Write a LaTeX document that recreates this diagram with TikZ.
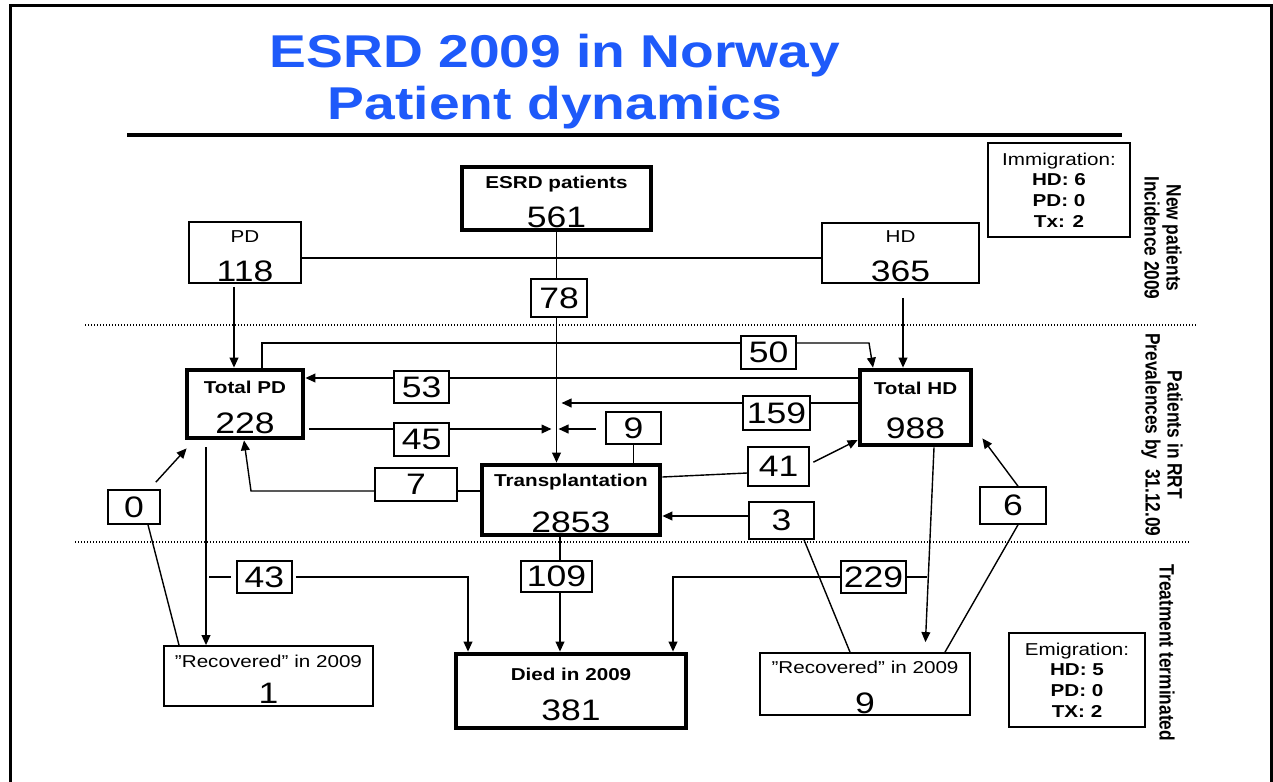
\documentclass[tikz,border=0pt]{standalone}
\usepackage{fontspec}
\setmainfont{Liberation Sans}[FakeStretch=1.2]
\newfontfamily\sidefamily{Liberation Sans}[FakeStretch=0.833]
\usetikzlibrary{arrows.meta,calc}
\definecolor{titleblue}{RGB}{30,90,250}
\newcommand\numf{\mdseries\fontsize{14.8}{17}\selectfont}
\newcommand\boxf{\fontsize{8.6}{19.5}\selectfont\lineskiplimit=-\maxdimen}
\newcommand\infof{\fontsize{8.6}{10.4}\selectfont}
\newcommand\sidef{\sidefamily\bfseries\fontsize{10.4}{11}\selectfont}
\newcommand\titlef{\bfseries\fontsize{23}{26}\selectfont}
\newcommand\twolines[3]{\rule{0pt}{9.3pt}#1\\[#3]{\numf #2}}

\begin{document}
\begin{tikzpicture}[x=0.5pt,y=-0.5pt,>={Triangle[length=5pt,width=4.4pt]},
  flowbox/.style={draw,line width=0.9pt,inner sep=0pt,align=center,font=\boxf},
  mainbox/.style={flowbox,line width=2.4pt,font=\boxf\bfseries},
  numbox/.style={draw,line width=0.8pt,inner sep=0pt,font=\numf},
  infobox/.style={draw,line width=0.9pt,inner sep=0pt,align=center,font=\infof},
  sidelabel/.style={rotate=-90,align=center,font=\sidef},
  conn/.style={line width=0.7pt},
  divider/.style={line width=0.6pt,dash pattern=on 0.6pt off 0.9pt}]

\useasboundingbox (0,0) rectangle (1273,781);
\draw[line width=1.5pt] (10,6) rectangle (1271,800);

\node[anchor=north,inner sep=0pt,align=center,font=\titlef,text=titleblue] (title) at (555,34) {ESRD 2009 in Norway\\Patient dynamics};
\draw[line width=1.6pt] (127,135) -- (1122,135);

\draw[divider] (85,325) -- (1197,325);
\draw[divider] (75,542) -- (1190,542);

\node[mainbox,minimum width=94.5pt,minimum height=31.5pt] (esrd) at (556.5,198.5) {\twolines{ESRD patients}{561}{0pt}};
 \node[flowbox,minimum width=56pt,minimum height=30.5pt] (pd) at (245,252.5) {\twolines{PD}{118}{0pt}};
 \node[flowbox,minimum width=78.5pt,minimum height=30pt] (hd) at (900.5,253) {\twolines{HD}{365}{0pt}};
\node[infobox,minimum width=71pt,minimum height=47pt] (immig) at (1059,190) {Immigration:\\\textbf{HD: 6}\\\textbf{PD: 0}\\\textbf{Tx: 2}};

\node[mainbox,minimum width=58pt,minimum height=34pt] (tpd) at (245,404) {\twolines{Total PD}{228}{0.5pt}};
\node[mainbox,minimum width=55.5pt,minimum height=37.5pt] (thd) at (915.5,407.5) {\twolines{Total HD}{988}{2.5pt}};
\node[mainbox,minimum width=89pt,minimum height=35pt] (tx) at (571,500) {\twolines{Transplantation}{2853}{3.5pt}};

\node[mainbox,minimum width=115pt,minimum height=37pt] (died) at (571,691) {\twolines{Died in 2009}{381}{0.5pt}};
 \node[flowbox,minimum width=104.5pt,minimum height=30pt] (recpd) at (268.5,676) {\twolines{”Recovered” in 2009}{1}{-1.5pt}};
 \node[flowbox,minimum width=105pt,minimum height=31pt] (rechd) at (865,684) {\twolines{”Recovered” in 2009}{9}{0.5pt}};
\node[infobox,minimum width=68pt,minimum height=47pt] (emig) at (1077,680) {Emigration:\\\textbf{HD: 5}\\\textbf{PD: 0}\\\textbf{TX: 2}};

\node[numbox,minimum width=28pt,minimum height=19pt] (n78) at (559,298) {78};
\node[numbox,minimum width=27.5pt,minimum height=16pt] (n53) at (421.5,387) {53};
\node[numbox,minimum width=27.5pt,minimum height=16.5pt] (n45) at (421.5,439.5) {45};
\node[numbox,minimum width=27.5pt,minimum height=16pt] (n9) at (633.5,428) {9};
\node[numbox,minimum width=41pt,minimum height=16.5pt] (n7) at (416,484.5) {7};
\node[numbox,minimum width=27.5pt,minimum height=16.5pt] (n50) at (768.5,352.5) {50};
\node[numbox,minimum width=33.5pt,minimum height=17pt] (n159) at (776.5,413) {159};
\node[numbox,minimum width=30.5pt,minimum height=19.5pt] (n41) at (778.5,466.5) {41};
\node[numbox,minimum width=32.5pt,minimum height=18.5pt] (n3) at (781.5,520.5) {3};
\node[numbox,minimum width=33pt,minimum height=18.5pt] (n6) at (1013,505.5) {6};
\node[numbox,minimum width=26pt,minimum height=17pt] (n0) at (134,507) {0};
\node[numbox,minimum width=27.5pt,minimum height=16pt] (n43) at (264.5,577) {43};
\node[numbox,minimum width=35.5pt,minimum height=15.5pt] (n109) at (556.5,576.5) {109};
\node[numbox,minimum width=32.5pt,minimum height=16pt] (n229) at (873.5,577) {229};

\node[sidelabel] (sidenew) at (1163,238) {New patients\\Incidence 2009};
\node[sidelabel] (siderrt) at (1162,435) {Patients in RRT\\Prevalences by~~31.12.09};
\node[sidelabel] (sideend) at (1167,653) {Treatment terminated};

\draw[conn] (esrd.south) -- (esrd.south |- n78.north);
\draw[conn,->] (esrd.south |- n78.south) -- (esrd.south |- tx.north);
\draw[conn] (pd.east |- 0,258) -- (hd.west |- 0,258);
\draw[conn,->,shorten <=1.5pt] (234,0 |- pd.south) -- (234,0 |- tpd.north);
\draw[conn,->,shorten <=7pt] (903,0 |- hd.south) -- (903,0 |- thd.north);

\draw[conn] (262,0 |- tpd.north) |- (n50.west |- 0,343);
\draw[conn,->] (n50.east |- 0,343) -- (869,343) -- (873,0 |- thd.north);
\draw[conn] (thd.west |- 0,378) -- (n53.east |- 0,378);
\draw[conn,->] (n53.west |- 0,378) -- (tpd.east |- 0,378);
\draw[conn] (thd.west |- 0,403) -- (n159.east |- 0,403);
\draw[conn,->,shorten >=2.5pt] (n159.west |- 0,403) -- (esrd.south |- 0,403);
\draw[conn,shorten <=2pt] (tpd.east |- 0,429) -- (n45.west |- 0,429);
\draw[conn,->,shorten >=2.5pt] (n45.east |- 0,429) -- (esrd.south |- 0,429);
\draw[conn,->,shorten <=4.5pt,shorten >=1pt] (n9.west |- 0,429) -- (esrd.south |- 0,429);
\draw[conn] (n9.south) -- (n9.south |- tx.north);
\draw[conn] (tx.west |- 0,491) -- (n7.east |- 0,491);
\draw[conn,->] (n7.west |- 0,491) -- (251,491) -- (244,0 |- tpd.south);
\draw[conn] (tx.east |- 0,477) -- (n41.west |- 0,473);
\draw[conn,->,shorten <=2pt] (n41.east |- 0,464) -- (thd.west |- 0,440);
\draw[conn,->] (n3.west |- 0,516) -- (tx.east |- 0,516);
\draw[conn,->] (1018,0 |- n6.north) -- ($(thd.south east)+(9,-9)$);
\draw[conn,->] ($(n0.north east)+(-5,-7)$) -- ($(tpd.south west)+(2,8)$);

\draw[conn] (804,0 |- n3.south) -- (850,0 |- rechd.north);
\draw[conn] (1018,0 |- n6.south) -- (945,0 |- rechd.north);
\draw[conn,->,shorten >=5pt] (934,0 |- thd.south) -- (925,0 |- rechd.north);
\draw[conn] (n229.east) -- (927,0 |- n229.east);
\draw[conn,->] (n229.west) -| (673,0 |- died.north);
\draw[conn,shorten <=1.5pt,shorten >=2.5pt] (206,0 |- n43.west) -- (n43.west);
\draw[conn,->,shorten <=1.5pt] (n43.east) -| (468,0 |- died.north);
\draw[conn] (560,0 |- tx.south) -- (560,0 |- n109.north);
\draw[conn,->] (560,0 |- n109.south) -- (560,0 |- died.north);
\draw[conn,->,shorten <=3.5pt] (206,0 |- tpd.south) -- (206,0 |- recpd.north);
\draw[conn] (148,0 |- n0.south) -- (179,0 |- recpd.north);
\end{tikzpicture}
\end{document}
